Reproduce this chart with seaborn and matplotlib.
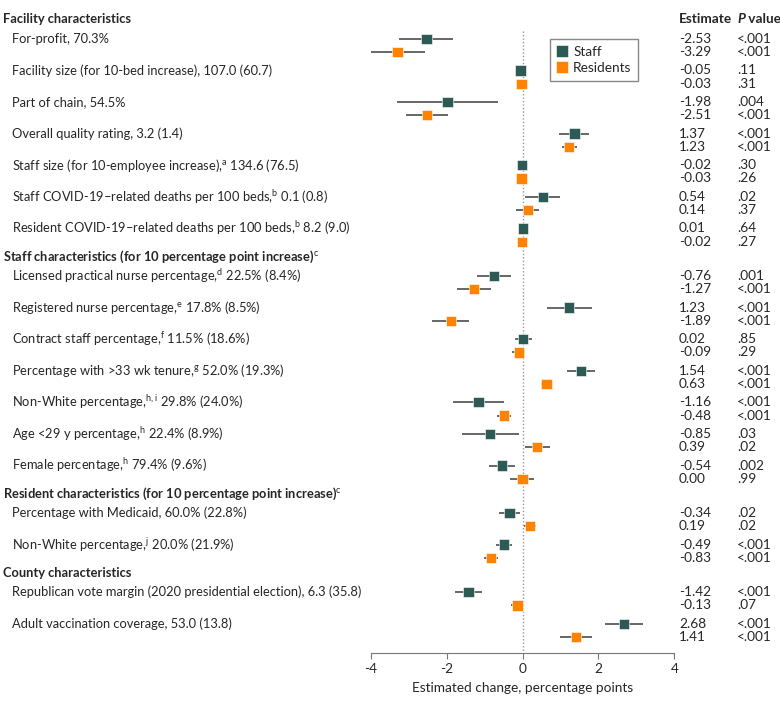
"""
Forest plot: estimated change in COVID-19 vaccination coverage (staff vs residents)
"""
import numpy as np
import pandas as pd
import matplotlib
matplotlib.use("Agg")
import matplotlib.pyplot as plt
import matplotlib.transforms as mtransforms
from matplotlib.lines import Line2D
import seaborn as sns

# ---- data ----
sections = [
    "Facility characteristics",
    "Staff characteristics (for 10 percentage point increase)$^{\\mathrm{c}}$",
    "Resident characteristics (for 10 percentage point increase)$^{\\mathrm{c}}$",
    "County characteristics",
]
section_sizes = [7, 7, 2, 2]

labels = [
    "For-profit, 70.3%",
    "Facility size (for 10-bed increase), 107.0 (60.7)",
    "Part of chain, 54.5%",
    "Overall quality rating, 3.2 (1.4)",
    "Staff size (for 10-employee increase),$^{\\mathrm{a}}$ 134.6 (76.5)",
    "Staff COVID-19–related deaths per 100 beds,$^{\\mathrm{b}}$ 0.1 (0.8)",
    "Resident COVID-19–related deaths per 100 beds,$^{\\mathrm{b}}$ 8.2 (9.0)",
    "Licensed practical nurse percentage,$^{\\mathrm{d}}$ 22.5% (8.4%)",
    "Registered nurse percentage,$^{\\mathrm{e}}$ 17.8% (8.5%)",
    "Contract staff percentage,$^{\\mathrm{f}}$ 11.5% (18.6%)",
    "Percentage with >33 wk tenure,$^{\\mathrm{g}}$ 52.0% (19.3%)",
    "Non-White percentage,$^{\\mathrm{h,i}}$ 29.8% (24.0%)",
    "Age <29 y percentage,$^{\\mathrm{h}}$ 22.4% (8.9%)",
    "Female percentage,$^{\\mathrm{h}}$ 79.4% (9.6%)",
    "Percentage with Medicaid, 60.0% (22.8%)",
    "Non-White percentage,$^{\\mathrm{j}}$ 20.0% (21.9%)",
    "Republican vote margin (2020 presidential election), 6.3 (35.8)",
    "Adult vaccination coverage, 53.0 (13.8)",
]

staff_est = [-2.53, -0.05, -1.98, 1.37, -0.02, 0.54, 0.01,
             -0.76, 1.23, 0.02, 1.54, -1.16, -0.85, -0.54,
             -0.34, -0.49, -1.42, 2.68]
staff_lo = [-3.25, -0.11, -3.32, 0.97, -0.06, 0.07, -0.04,
            -1.21, 0.64, -0.20, 1.17, -1.83, -1.60, -0.88,
            -0.61, -0.70, -1.78, 2.17]
staff_hi = [-1.82, 0.01, -0.65, 1.74, 0.02, 1.00, 0.06,
            -0.31, 1.82, 0.24, 1.90, -0.50, -0.10, -0.21,
            -0.07, -0.28, -1.06, 3.17]
staff_p = ["<.001", ".11", ".004", "<.001", ".30", ".02", ".64",
           ".001", "<.001", ".85", "<.001", "<.001", ".03", ".002",
           ".02", "<.001", "<.001", "<.001"]

res_est = [-3.29, -0.03, -2.51, 1.23, -0.03, 0.14, -0.02,
           -1.27, -1.89, -0.09, 0.63, -0.48, 0.39, 0.00,
           0.19, -0.83, -0.13, 1.41]
res_lo = [-4.02, -0.08, -3.08, 1.03, -0.07, -0.18, -0.07,
          -1.72, -2.38, -0.27, 0.49, -0.67, 0.07, -0.32,
          0.04, -1.01, -0.29, 0.99]
res_hi = [-2.57, 0.02, -1.95, 1.43, 0.01, 0.43, 0.03,
          -0.84, -1.41, 0.07, 0.78, -0.29, 0.72, 0.30,
          0.36, -0.65, 0.02, 1.82]
res_p = ["<.001", ".31", "<.001", "<.001", ".26", ".37", ".27",
         "<.001", "<.001", ".29", "<.001", "<.001", ".02", ".99",
         ".02", "<.001", ".07", "<.001"]

groups = ["Staff", "Residents"]
colors = {"Staff": "#2d5a55", "Residents": "#ff8200"}

# ---- layout (vertical positions in pixel units, top = 0) ----
ROW, PAIR, HEAD_ABOVE, HEAD_GAP = 31.6, 13.3, 19.5, 28.0
head_y, item_y = [], []
y = 19.3
for s, n in enumerate(section_sizes):
    if s > 0:
        y = item_y[-1] + HEAD_GAP
    head_y.append(y)
    y += HEAD_ABOVE
    for k in range(n):
        item_y.append(y)
        y += ROW

df = pd.DataFrame({
    "group": ["Staff"] * len(labels) + ["Residents"] * len(labels),
    "est": staff_est + res_est,
    "lo": staff_lo + res_lo,
    "hi": staff_hi + res_hi,
    "ypos": item_y + [v + PAIR for v in item_y],
})

sns.set_style("white")
plt.rcParams["font.family"] = ["Lato", "DejaVu Sans"]
plt.rcParams["mathtext.fontset"] = "custom"
plt.rcParams["mathtext.rm"] = "Lato"
plt.rcParams["mathtext.bf"] = "Lato:bold"

W, H = 780, 706
fig = plt.figure(figsize=(W / 100, H / 100), dpi=100)
x0_px, x1_px, axis_px = 370.7, 674.3, 653
ax = fig.add_axes([x0_px / W, 1 - axis_px / H, (x1_px - x0_px) / W, axis_px / H])
ax.set_xlim(-4, 4)
ax.set_ylim(axis_px, 0)

# zero reference line
ax.vlines(0, item_y[0] - 8, axis_px, color="#999999", linestyle=(0, (1, 1.5)), linewidth=1, zorder=1)

# confidence intervals
ax.hlines(df["ypos"], df["lo"], df["hi"], color="#5a5a5a", linewidth=1.3, zorder=2)

# point estimates
sns.scatterplot(data=df, x="est", y="ypos", hue="group", palette=colors, marker="s",
                s=55, edgecolor="white", linewidth=0.4, legend=False, ax=ax, zorder=3)

# axes styling
for side in ["left", "right", "top"]:
    ax.spines[side].set_visible(False)
ax.spines["bottom"].set_color("#777777")
ax.set_xticks([-4, -2, 0, 2, 4])
ax.set_xticklabels(["-4", "-2", "0", "2", "4"])
fs = 9.8
fs_lab = 9.3
ax.tick_params(axis="x", direction="out", length=4, color="#777777", labelsize=fs, pad=3, bottom=True)
ax.set_yticks([])
ax.set_ylabel("")
ax.set_xlabel("Estimated change, percentage points", fontsize=fs, labelpad=5)

# text columns
trans = mtransforms.blended_transform_factory(fig.transFigure, ax.transData)
for s, hy in enumerate(head_y):
    ax.text(3.3 / W, hy, sections[s], transform=trans, fontsize=fs_lab, fontweight="bold",
            va="center", ha="left", clip_on=False)
for i, lab in enumerate(labels):
    ax.text(11.7 / W, item_y[i], lab, transform=trans, fontsize=fs_lab, va="center", ha="left", clip_on=False)
    ax.text(679 / W, item_y[i], f"{staff_est[i]:.2f}", transform=trans, fontsize=fs,
            va="center", ha="left", clip_on=False)
    ax.text(679 / W, item_y[i] + PAIR, f"{res_est[i]:.2f}", transform=trans, fontsize=fs,
            va="center", ha="left", clip_on=False)
    ax.text(737 / W, item_y[i], staff_p[i], transform=trans, fontsize=fs,
            va="center", ha="left", clip_on=False)
    ax.text(737 / W, item_y[i] + PAIR, res_p[i], transform=trans, fontsize=fs,
            va="center", ha="left", clip_on=False)

ax.text(679 / W, head_y[0], "Estimate", transform=trans, fontsize=fs, fontweight="bold",
        va="center", ha="left", clip_on=False)
p_txt = ax.text(737 / W, head_y[0], "P", transform=trans, fontsize=fs, fontweight="bold",
                fontstyle="italic", va="center", ha="left", clip_on=False)
ax.annotate(" value", xy=(1, 0), xycoords=p_txt, fontsize=fs, fontweight="bold",
            va="bottom", ha="left", annotation_clip=False)

# legend
handles = [Line2D([], [], marker="s", linestyle="", markersize=8, markerfacecolor=colors[g],
                  markeredgecolor="white", markeredgewidth=0.4, label=g) for g in groups]
ax.legend(handles=handles, loc="upper left", bbox_to_anchor=(550 / W, 1 - 39 / H),
          bbox_transform=fig.transFigure, borderaxespad=0, fontsize=fs, frameon=True,
          fancybox=False, edgecolor="#888888", framealpha=1, handlelength=0.8,
          handletextpad=0.4, borderpad=0.5, labelspacing=0.3)

fig.savefig("out.png", dpi=100)
